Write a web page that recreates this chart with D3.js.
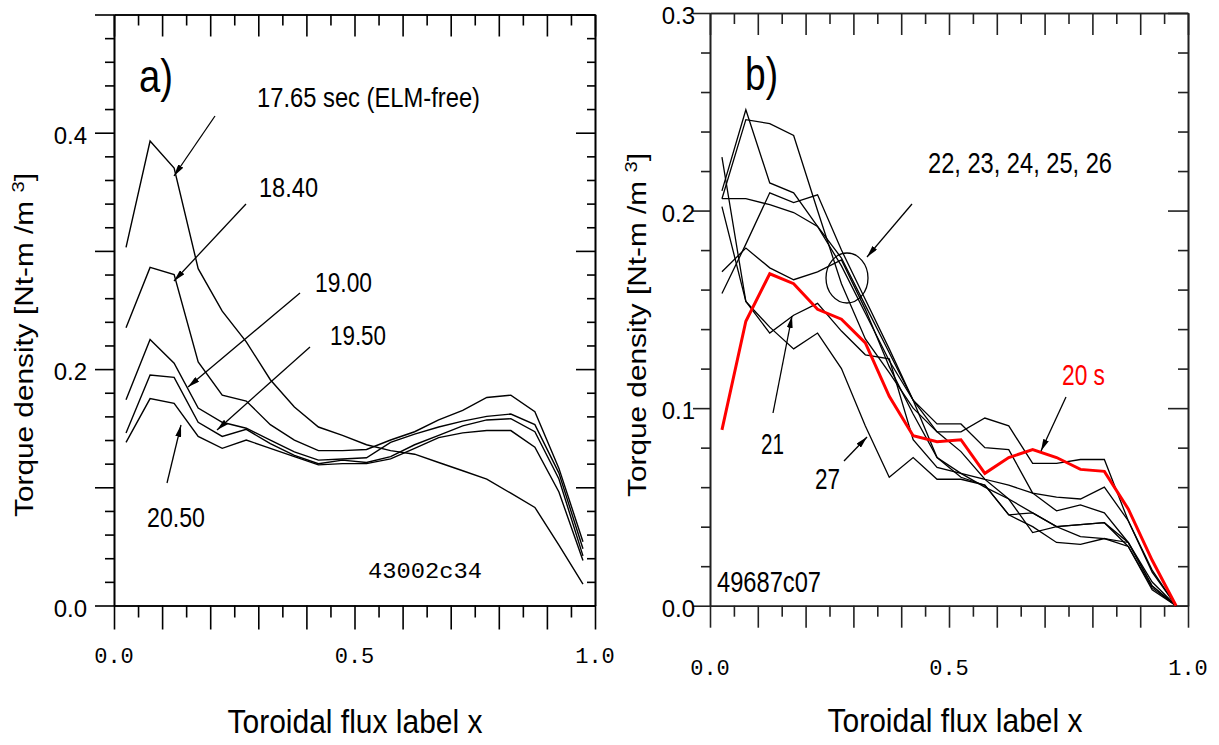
<!DOCTYPE html>
<html>
<head>
<meta charset="utf-8">
<script src="https://cdn.jsdelivr.net/npm/d3@7"></script>
<style>
  body { margin: 0; background: #fff; }
  svg { display: block; }
</style>
</head>
<body>
<div id="chart"></div>
<script>
// radial grid of both profiles (toroidal flux label)
var xs = [0.025, 0.075, 0.125, 0.175, 0.225, 0.275, 0.325, 0.375, 0.425, 0.475,
          0.525, 0.575, 0.625, 0.675, 0.725, 0.775, 0.825, 0.875, 0.925, 0.975];

// panel a) shot 43002, torque density profiles at several times
var a1765 = [0.303, 0.393, 0.370, 0.285, 0.249, 0.223, 0.191, 0.168, 0.151, 0.144,
             0.136, 0.131, 0.128, 0.121, 0.114, 0.107, 0.095, 0.083, 0.051, 0.018];
var a1840 = [0.235, 0.286, 0.280, 0.206, 0.178, 0.173, 0.153, 0.140, 0.131, 0.131,
             0.132, 0.140, 0.147, 0.157, 0.165, 0.176, 0.178, 0.164, 0.116, 0.054];
var a1900 = [0.174, 0.225, 0.205, 0.167, 0.155, 0.150, 0.140, 0.130, 0.123, 0.124,
             0.125, 0.138, 0.145, 0.151, 0.156, 0.160, 0.162, 0.153, 0.112, 0.048];
var a1950 = [0.146, 0.195, 0.193, 0.155, 0.143, 0.149, 0.137, 0.127, 0.120, 0.123,
             0.121, 0.126, 0.136, 0.144, 0.152, 0.157, 0.158, 0.147, 0.107, 0.042];
var a2050 = [0.138, 0.175, 0.171, 0.143, 0.133, 0.140, 0.133, 0.126, 0.119, 0.120,
             0.120, 0.124, 0.133, 0.142, 0.146, 0.148, 0.148, 0.134, 0.096, 0.038];

// panel b) shot 49687
var b20 = [0.089, 0.144, 0.168, 0.163, 0.150, 0.145, 0.133, 0.106, 0.086, 0.083,
           0.084, 0.067, 0.075, 0.079, 0.075, 0.069, 0.068, 0.049, 0.023, 0.000];
var b21 = [0.202, 0.154, 0.138, 0.147, 0.153, 0.139, 0.127, 0.125, 0.084, 0.070,
           0.067, 0.064, 0.054, 0.047, 0.040, 0.041, 0.042, 0.032, 0.010, 0.000];
var b22 = [0.210, 0.251, 0.214, 0.209, 0.192, 0.176, 0.152, 0.128, 0.104, 0.092,
           0.092, 0.080, 0.079, 0.057, 0.055, 0.054, 0.060, 0.043, 0.017, 0.000];
var b23 = [0.206, 0.246, 0.244, 0.238, 0.200, 0.163, 0.135, 0.118, 0.100, 0.088,
           0.088, 0.095, 0.091, 0.072, 0.072, 0.074, 0.074, 0.043, 0.018, 0.000];
var b24 = [0.206, 0.206, 0.203, 0.199, 0.192, 0.172, 0.148, 0.124, 0.104, 0.088,
           0.078, 0.064, 0.061, 0.057, 0.048, 0.051, 0.047, 0.032, 0.012, 0.000];
var b25 = [0.158, 0.183, 0.209, 0.204, 0.208, 0.180, 0.155, 0.130, 0.104, 0.075,
           0.067, 0.060, 0.054, 0.037, 0.040, 0.035, 0.034, 0.032, 0.010, 0.000];
var b26 = [0.169, 0.181, 0.171, 0.165, 0.169, 0.175, 0.150, 0.121, 0.097, 0.075,
           0.065, 0.061, 0.046, 0.047, 0.040, 0.041, 0.042, 0.030, 0.009, 0.000];
var b27 = [0.227, 0.154, 0.141, 0.130, 0.138, 0.120, 0.091, 0.065, 0.075, 0.064,
           0.064, 0.061, 0.046, 0.040, 0.032, 0.031, 0.034, 0.030, 0.008, 0.000];

// ticks
var xMajor = [0, 0.1, 0.2, 0.3, 0.4, 0.5, 0.6, 0.7, 0.8, 0.9, 1.0];
var xMinor = [0.05, 0.15, 0.25, 0.35, 0.45, 0.55, 0.65, 0.75, 0.85, 0.95];
var xLabels = ["0.0", "0.5", "1.0"];
var xLabelVals = [0, 0.5, 1.0];

var aYMajor = [0, 0.1, 0.2, 0.3, 0.4, 0.5];
var aYMinor = [0.02, 0.04, 0.06, 0.08, 0.12, 0.14, 0.16, 0.18, 0.22, 0.24, 0.26, 0.28,
               0.32, 0.34, 0.36, 0.38, 0.42, 0.44, 0.46, 0.48];
var aYLabels = ["0.0", "0.2", "0.4"];
var aYLabelVals = [0, 0.2, 0.4];

var bYMajor = [0, 0.1, 0.2, 0.3];
var bYMinor = [0.02, 0.04, 0.06, 0.08, 0.12, 0.14, 0.16, 0.18, 0.22, 0.24, 0.26, 0.28];
var bYLabels = ["0.0", "0.1", "0.2", "0.3"];
var bYLabelVals = [0, 0.1, 0.2, 0.3];

var sans = "'Liberation Sans', Arial, Helvetica, sans-serif";
var mono = "'Liberation Mono', 'Courier New', monospace";

var svg = d3.select("#chart")
  .append("svg")
    .attr("width", 1219)
    .attr("height", 745);

// arrow head
svg.append("defs").append("marker")
    .attr("id", "head")
    .attr("markerUnits", "userSpaceOnUse")
    .attr("viewBox", "0 0 12 6")
    .attr("refX", 12).attr("refY", 3)
    .attr("markerWidth", 12).attr("markerHeight", 6)
    .attr("orient", "auto")
  .append("path")
    .attr("d", "M0,0L12,3L0,6Z")
    .attr("fill", "#000");

// panel scales
var xa = d3.scaleLinear().domain([0, 1]).range([114, 595]);
var ya = d3.scaleLinear().domain([0, 0.5]).range([605.5, 14.5]);
var xb = d3.scaleLinear().domain([0, 1]).range([710, 1188]);
var yb = d3.scaleLinear().domain([0, 0.3]).range([605.7, 13]);

function frame(x, y, yMajor, yMinor, t, color) {
  // t = tick lengths {left, leftMinor, right, rightMinor, top, topMinor, bottom, bottomMinor}
  var x0 = x.range()[0], x1 = x.range()[1], y0 = y.range()[0], y1 = y.range()[1];
  var g = svg.append("g").attr("class", "frame");

  function put(axis, tr) {
    var a = g.append("g").attr("transform", tr).call(axis);
    a.selectAll("path, line").attr("stroke", color).attr("stroke-width", 1.6);
    a.selectAll("text").remove();
    return a;
  }
  put(d3.axisLeft(y).tickValues(yMajor).tickSize(t.left).tickSizeOuter(0).tickFormat(""), "translate(" + x0 + ",0)");
  put(d3.axisLeft(y).tickValues(yMinor).tickSize(t.leftMinor).tickSizeOuter(0).tickFormat(""), "translate(" + x0 + ",0)");
  put(d3.axisRight(y).tickValues(yMajor).tickSize(-t.right).tickSizeOuter(0).tickFormat(""), "translate(" + x1 + ",0)");
  put(d3.axisRight(y).tickValues(yMinor).tickSize(-t.rightMinor).tickSizeOuter(0).tickFormat(""), "translate(" + x1 + ",0)");
  put(d3.axisTop(x).tickValues(xMajor).tickSize(-t.top).tickSizeOuter(0).tickFormat(""), "translate(0," + y1 + ")");
  put(d3.axisTop(x).tickValues(xMinor).tickSize(-t.topMinor).tickSizeOuter(0).tickFormat(""), "translate(0," + y1 + ")");
  put(d3.axisBottom(x).tickValues(xMajor).tickSize(t.bottom).tickSizeOuter(0).tickFormat(""), "translate(0," + y0 + ")");
  put(d3.axisBottom(x).tickValues(xMinor).tickSize(t.bottomMinor).tickSizeOuter(0).tickFormat(""), "translate(0," + y0 + ")");
}

frame(xa, ya, aYMajor, aYMinor,
  {left: 19, leftMinor: 9, right: 19, rightMinor: 8, top: 22, topMinor: 11, bottom: 24, bottomMinor: 12}, "#000");
frame(xb, yb, bYMajor, bYMinor,
  {left: 17, leftMinor: 9, right: 20, rightMinor: 10, top: 22, topMinor: 11, bottom: 22, bottomMinor: 11}, "#222");

// tick labels
function yLabels(y, vals, labels, xEnd) {
  svg.append("g").selectAll("text")
      .data(vals)
    .enter().append("text")
      .attr("x", xEnd)
      .attr("y", function(d) { return y(d) + 11; })
      .attr("text-anchor", "end")
      .attr("font-family", sans)
      .attr("font-size", 24)
      .text(function(d, i) { return labels[i]; });
}
yLabels(ya, aYLabelVals, aYLabels, 87);
yLabels(yb, bYLabelVals, bYLabels, 695);

function xLabelsAt(x, base) {
  svg.append("g").selectAll("text")
      .data(xLabelVals)
    .enter().append("text")
      .attr("x", function(d) { return x(d); })
      .attr("y", base)
      .attr("text-anchor", "middle")
      .attr("font-family", mono)
      .attr("font-size", 22)
      .text(function(d, i) { return xLabels[i]; });
}
xLabelsAt(xa, 663);
xLabelsAt(xb, 675);

// axis titles
function xTitle(cx, base) {
  svg.append("text")
      .attr("x", cx).attr("y", base)
      .attr("text-anchor", "middle")
      .attr("font-family", sans)
      .attr("font-size", 34)
      .attr("textLength", 255)
      .attr("lengthAdjust", "spacingAndGlyphs")
      .text("Toroidal flux label x");
}
xTitle(355, 733);
xTitle(955, 732);

function yTitle(bx, cy) {
  var t = svg.append("text")
      .attr("transform", "translate(" + bx + "," + cy + ") rotate(-90)")
      .attr("text-anchor", "middle")
      .attr("font-family", sans)
      .attr("font-size", 25)
      .attr("textLength", 344)
      .attr("lengthAdjust", "spacingAndGlyphs");
  t.append("tspan").text("Torque density [Nt-m /m ");
  t.append("tspan").attr("font-size", 17).attr("dy", -9).text("3");
  t.append("tspan").attr("dy", 9).text("]");
}
yTitle(33, 345);
yTitle(646, 325);

// profiles
function curve(x, y, vals, color, w) {
  var line = d3.line()
      .x(function(d, i) { return x(xs[i]); })
      .y(function(d) { return y(d); });
  svg.append("path")
      .datum(vals)
      .attr("fill", "none")
      .attr("stroke", color)
      .attr("stroke-width", w)
      .attr("stroke-linejoin", "miter")
      .attr("d", line);
}
[a1765, a1840, a1900, a1950, a2050].forEach(function(s) { curve(xa, ya, s, "#000", 1.4); });
[b21, b22, b23, b24, b25, b26, b27].forEach(function(s) { curve(xb, yb, s, "#000", 1.3); });
curve(xb, yb, b20, "#ff0000", 3);

// labels and arrows
function label(txt, x, y, size, len, color) {
  svg.append("text")
      .attr("x", x).attr("y", y)
      .attr("font-family", sans)
      .attr("font-size", size)
      .attr("fill", color || "#000")
      .attr("textLength", len)
      .attr("lengthAdjust", "spacingAndGlyphs")
      .text(txt);
}
function arrow(x1, y1, x2, y2) {
  svg.append("line")
      .attr("x1", x1).attr("y1", y1)
      .attr("x2", x2).attr("y2", y2)
      .attr("stroke", "#000")
      .attr("stroke-width", 1.3)
      .attr("marker-end", "url(#head)");
}

label("a)", 139, 92, 46, 34);
label("17.65 sec (ELM-free)", 257, 107, 28, 223);
label("18.40", 259, 197, 28, 59);
label("19.00", 315, 292, 28, 57);
label("19.50", 330, 345, 28, 56);
label("20.50", 147, 527, 28, 58);
arrow(215, 116, 174, 176);
arrow(246, 204, 174, 281);
arrow(300, 293, 188, 387);
arrow(310, 347, 217, 430);
arrow(167, 483, 181, 425);

svg.append("text")
    .attr("x", 482).attr("y", 578)
    .attr("text-anchor", "end")
    .attr("font-family", mono)
    .attr("font-size", 22)
    .attr("textLength", 114)
    .attr("lengthAdjust", "spacingAndGlyphs")
    .text("43002c34");

label("b)", 745, 90, 46, 33);
label("22, 23, 24, 25, 26", 928, 173, 29, 184);
label("20 s", 1062, 385, 30, 43, "#ff0000");
label("21", 761, 454, 29, 23);
label("27", 815, 489, 29, 25);
label("49687c07", 717, 592, 29, 104);
arrow(912, 204, 867, 257);
arrow(773, 413, 792, 316);
arrow(844, 461, 867, 437);
arrow(1066, 397, 1041, 451);

svg.append("ellipse")
    .attr("cx", 847).attr("cy", 278)
    .attr("rx", 21).attr("ry", 25)
    .attr("fill", "none")
    .attr("stroke", "#000")
    .attr("stroke-width", 1.3);
</script>
</body>
</html>
